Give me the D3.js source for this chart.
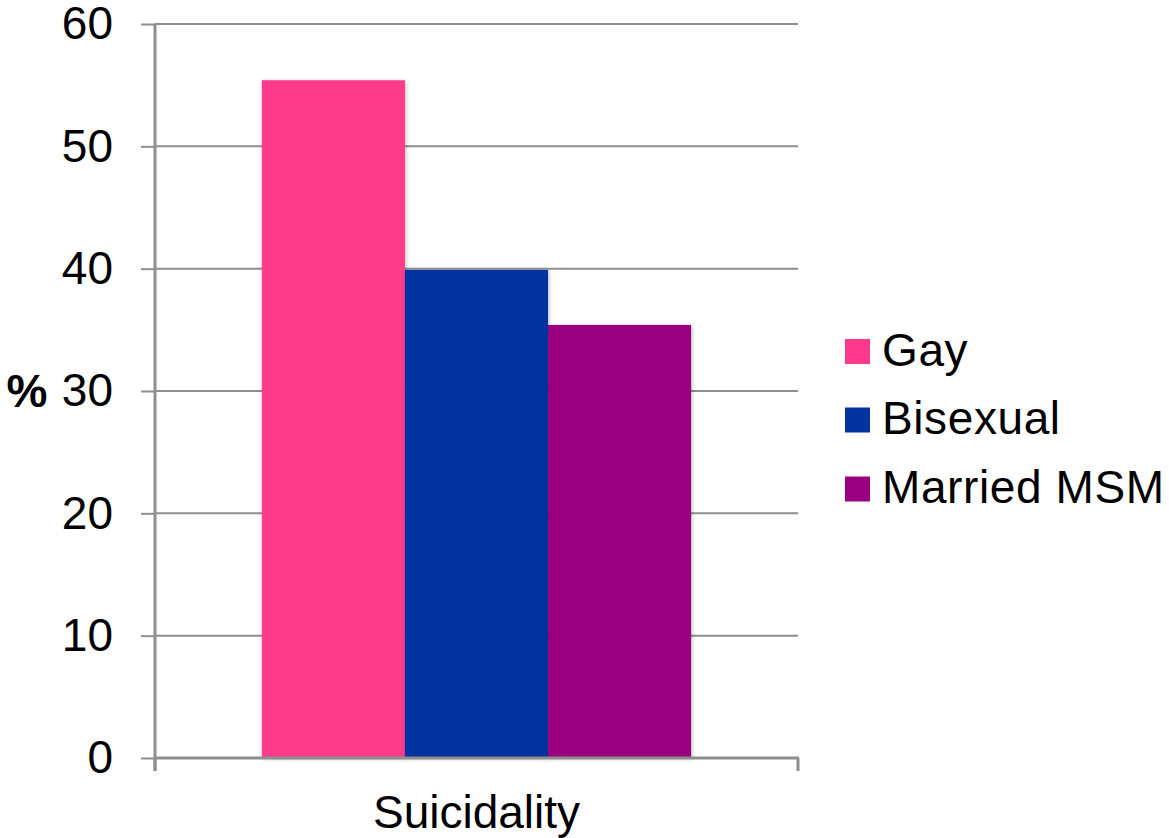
<!DOCTYPE html>
<html>
<head>
<meta charset="utf-8">
<script src="https://cdn.jsdelivr.net/npm/d3@7"></script>
<style>
  html, body { margin: 0; padding: 0; background: #fff; }
  svg { display: block; font-family: "Liberation Sans", Arial, sans-serif; }
</style>
</head>
<body>
<svg id="chart" width="1169" height="838"></svg>
<script>
const categories = ["Suicidality"];
const seriesNames = ["Gay", "Bisexual", "Married MSM"];
const seriesValues = [55.4, 39.9, 35.4];
const seriesColors = ["#FF3A8C", "#0033A0", "#990080"];
const yTicks = [0, 10, 20, 30, 40, 50, 60];
const yLabel = "%";

(function () {
const svg = d3.select("#chart");
const plotLeft = 155, plotRight = 798, plotTop = 24, plotBottom = 758;
const gridColor = "#8e8e8e";

const y = d3.scaleLinear().domain([0, 60]).range([plotBottom, plotTop]);
const x0 = d3.scaleBand().domain(categories).range([plotLeft, plotRight]).paddingInner(0).paddingOuter(0.2489);
const x1 = d3.scaleBand().domain(seriesNames).range([0, x0.bandwidth()]).padding(0);

const defs = svg.append("defs");
const f = defs.append("filter").attr("id", "shadow").attr("x", "-10%").attr("y", "-10%").attr("width", "130%").attr("height", "130%");
f.append("feDropShadow").attr("dx", 1).attr("dy", 1).attr("stdDeviation", 2).attr("flood-color", "#000").attr("flood-opacity", 0.25);

// y axis ticks + labels
const yAxis = d3.axisLeft(y).tickValues(yTicks).tickSize(plotLeft - 141).tickPadding(28).tickFormat(d3.format("d"));
const gy = svg.append("g").attr("transform", `translate(${plotLeft},0)`).call(yAxis);
gy.select(".domain").remove();
gy.selectAll(".tick line").attr("stroke", gridColor).attr("stroke-width", 2);
gy.selectAll(".tick text").attr("font-size", 46).attr("fill", "#000").attr("font-family", "Liberation Sans, Arial, sans-serif");

// horizontal gridlines
svg.append("g").selectAll("line").data(yTicks.filter(d => d !== 0)).join("line")
  .attr("x1", plotLeft).attr("x2", plotRight)
  .attr("y1", d => y(d)).attr("y2", d => y(d))
  .attr("stroke", gridColor).attr("stroke-width", 2);

// bars
const g = svg.append("g");
categories.forEach(cat => {
  g.selectAll("rect.bar").data(seriesValues).join("rect")
    .attr("class", "bar")
    .attr("x", (d, i) => x0(cat) + x1(seriesNames[i]))
    .attr("width", x1.bandwidth())
    .attr("y", d => y(d))
    .attr("height", d => y(0) - y(d))
    .attr("fill", (d, i) => seriesColors[i])
    .attr("filter", "url(#shadow)");
});

// y axis line
svg.append("line").attr("x1", plotLeft).attr("x2", plotLeft).attr("y1", plotTop).attr("y2", 771)
  .attr("stroke", gridColor).attr("stroke-width", 3);
// x axis line
svg.append("line").attr("x1", plotLeft).attr("x2", plotRight + 1).attr("y1", plotBottom).attr("y2", plotBottom)
  .attr("stroke", gridColor).attr("stroke-width", 3);
// x axis ticks at band edges
svg.append("g").selectAll("line").data([plotLeft, plotRight]).join("line")
  .attr("x1", d => d).attr("x2", d => d).attr("y1", plotBottom).attr("y2", 771)
  .attr("stroke", gridColor).attr("stroke-width", 3);

// x category label
svg.append("g").selectAll("text").data(categories).join("text")
  .attr("x", d => x0(d) + x0.bandwidth() / 2)
  .attr("y", 828)
  .attr("text-anchor", "middle")
  .attr("font-size", 46)
  .attr("fill", "#000")
  .text(d => d);

// y label
svg.append("text").attr("x", 27).attr("y", 407).attr("text-anchor", "middle")
  .attr("font-size", 46).attr("font-weight", "bold").attr("fill", "#000").text(yLabel);

// legend
const lg = svg.append("g");
const legendBase = [365.5, 434, 503];
seriesNames.forEach((name, i) => {
  lg.append("rect").attr("x", 845).attr("y", legendBase[i] - 26.5).attr("width", 25).attr("height", 25).attr("fill", seriesColors[i]);
  lg.append("text").attr("x", 882).attr("y", legendBase[i]).attr("font-size", 46).attr("letter-spacing", 0.6).attr("fill", "#000").text(name);
});
})();
</script>
</body>
</html>
